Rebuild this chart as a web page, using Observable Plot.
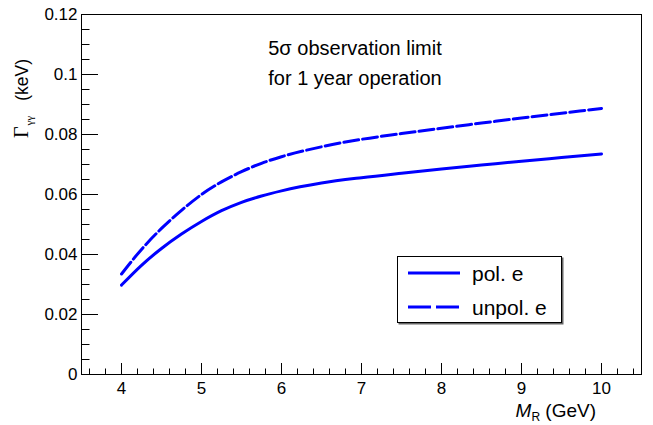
<!DOCTYPE html>
<html>
<head>
<meta charset="utf-8">
<script src="https://cdn.jsdelivr.net/npm/d3@7"></script>
<script src="https://cdn.jsdelivr.net/npm/@observablehq/plot@0.6"></script>
<style>
  html, body { margin: 0; padding: 0; background: #fff; }
  #chart { width: 653px; height: 425px; }
  svg { display: block; }
</style>
</head>
<body>
<div id="chart"></div>
<script>
// ---- data ----
const massGeV = [4, 4.25, 4.5, 4.75, 5, 5.25, 5.5, 5.75, 6, 6.5, 7, 7.5, 8, 8.5, 9, 9.5, 10];
const polE    = [0.0298, 0.0364, 0.0420, 0.0468, 0.0510, 0.0546, 0.0574, 0.0595, 0.0612, 0.0638, 0.0656, 0.0671, 0.0685, 0.0698, 0.0711, 0.0723, 0.0735];
const unpolE  = [0.0335, 0.0417, 0.0487, 0.0547, 0.0600, 0.0642, 0.0676, 0.0704, 0.0726, 0.0759, 0.0784, 0.0803, 0.0821, 0.0838, 0.0855, 0.0871, 0.0887];
const seriesNames = ["pol. e", "unpol. e"];
const xTicks = [4, 5, 6, 7, 8, 9, 10];
const xTickLabels = ["4", "5", "6", "7", "8", "9", "10"];
const yTicks = [0, 0.02, 0.04, 0.06, 0.08, 0.1, 0.12];
const yTickLabels = ["0", "0.02", "0.04", "0.06", "0.08", "0.1", "0.12"];
const annotationLines = ["5\u03c3 observation limit", "for 1 year operation"];

// ---- layout ----
const W = 653, H = 425;
const mL = 81, mR = 12, mT = 14, mB = 51;
const fw = W - mL - mR, fh = H - mT - mB;
const font = "'Liberation Sans', Arial, Helvetica, sans-serif";
const serif = "'Liberation Serif', 'Times New Roman', serif";

const xMinor = d3.range(36, 105, 2).map(v => v / 10).filter(v => !xTicks.includes(v));
const yMinor = d3.range(0, 121, 5).map(v => v / 1000).filter(v => !yTicks.some(t => Math.abs(t - v) < 1e-9));

const polRows = massGeV.map((m, i) => ({m, g: polE[i], s: seriesNames[0]}));
const unpolRows = massGeV.map((m, i) => ({m, g: unpolE[i], s: seriesNames[1]}));

const plot = Plot.plot({
  width: W, height: H,
  marginLeft: mL, marginRight: mR, marginTop: mT, marginBottom: mB,
  style: {fontFamily: font, fontSize: "17px", color: "black", background: "white", overflow: "visible"},
  x: {domain: [3.5, 10.5]},
  y: {domain: [0, 0.12]},
  marks: [
    Plot.ruleX(xMinor, {insetTop: fh - 5.5, stroke: "black", strokeWidth: 1}),
    Plot.ruleX(xTicks, {insetTop: fh - 11, stroke: "black", strokeWidth: 1}),
    Plot.ruleY(yMinor, {insetRight: fw - 8.5, stroke: "black", strokeWidth: 1}),
    Plot.ruleY(yTicks, {insetRight: fw - 17, stroke: "black", strokeWidth: 1}),
    Plot.axisX(xTicks, {tickSize: 0, tickPadding: 7, label: null, fontSize: 17,
      tickFormat: d => xTickLabels[xTicks.indexOf(d)]}),
    Plot.axisY(yTicks, {tickSize: 0, tickPadding: 4, label: null, fontSize: 17,
      tickFormat: d => yTickLabels[yTicks.findIndex(t => Math.abs(t - d) < 1e-9)]}),
    Plot.line(polRows, {x: "m", y: "g", stroke: "#0000ff", strokeWidth: 3, curve: "monotone-x"}),
    Plot.line(unpolRows, {x: "m", y: "g", stroke: "#0000ff", strokeWidth: 3, strokeDasharray: "15,4", curve: "monotone-x"}),
    Plot.frame({stroke: "black", strokeWidth: 1})
  ]
});
document.getElementById("chart").appendChild(plot);

const svg = d3.select(plot);

// y-axis title (rotated, right-aligned at the top)
const yt = svg.append("text")
  .attr("transform", "translate(28,59) rotate(-90)")
  .attr("text-anchor", "end")
  .attr("fill", "black")
  .style("font-family", font)
  .style("font-size", "17.5px");
yt.append("tspan").text("\u0393").style("font-family", serif).style("font-size", "20px");
yt.append("tspan").text("\u03b3\u03b3").attr("dx", 1).attr("dy", 4.5).style("font-family", serif).style("font-size", "11px");
yt.append("tspan").text("(keV)").attr("dx", 15).attr("dy", -4.5);

// x-axis title
const xt = svg.append("text")
  .attr("x", 596).attr("y", 417)
  .attr("text-anchor", "end")
  .attr("fill", "black")
  .style("font-family", font)
  .style("font-size", "19px");
xt.append("tspan").text("M").style("font-style", "italic");
xt.append("tspan").text("R").attr("dy", 4).style("font-size", "12px");
xt.append("tspan").text(" (GeV)").attr("dy", -4);

// annotation
annotationLines.forEach((t, i) => {
  svg.append("text")
    .attr("x", 355).attr("y", 55 + i * 30)
    .attr("text-anchor", "middle")
    .attr("fill", "black")
    .style("font-family", font)
    .style("font-size", "20px")
    .text(t);
});

// legend
const lg = svg.append("g");
lg.append("rect").attr("x", 398.5).attr("y", 257.5).attr("width", 165).attr("height", 67).attr("fill", "#666");
lg.append("rect").attr("x", 397.5).attr("y", 256.5).attr("width", 164).attr("height", 66)
  .attr("fill", "white").attr("stroke", "black").attr("stroke-width", 1);
const dashes = [null, "23,5"];
seriesNames.forEach((name, i) => {
  const cy = 273 + i * 34;
  lg.append("line").attr("x1", 408).attr("x2", 460).attr("y1", cy).attr("y2", cy)
    .attr("stroke", "#0000ff").attr("stroke-width", 3)
    .attr("stroke-dasharray", dashes[i]);
  lg.append("text").attr("x", 472).attr("y", cy + 8)
    .attr("text-anchor", "start")
    .attr("fill", "black")
    .style("font-family", font).style("font-size", "21px")
    .text(name);
});
</script>
</body>
</html>
